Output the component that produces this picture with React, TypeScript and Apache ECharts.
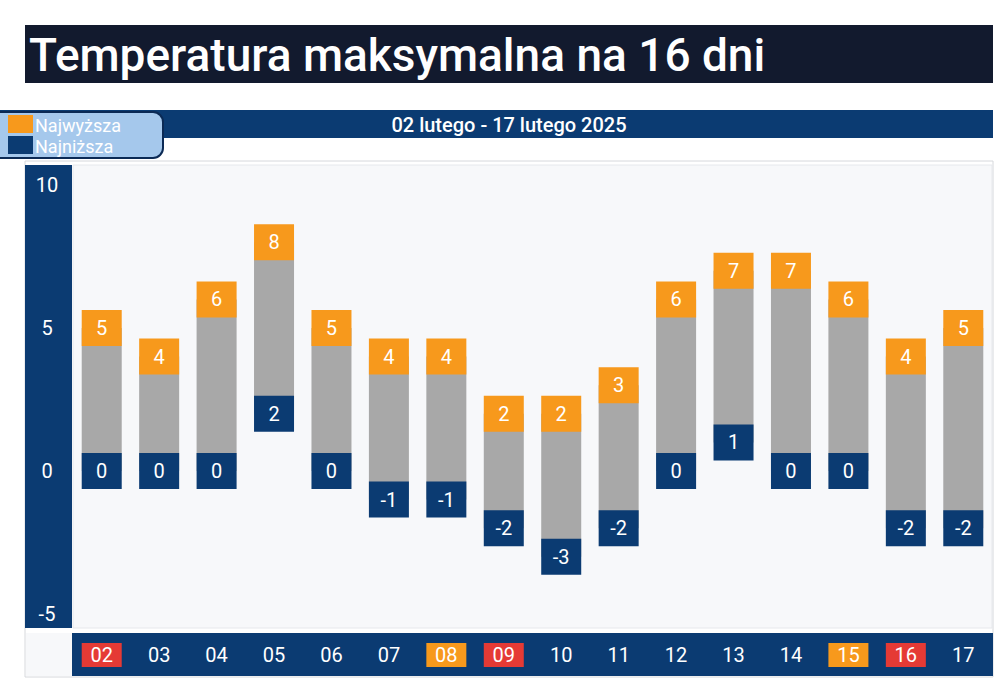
import React, { useEffect, useRef } from "react";
import * as echarts from "echarts";

const days = ["02", "03", "04", "05", "06", "07", "08", "09", "10", "11", "12", "13", "14", "15", "16", "17"];
const maxTemps = [5, 4, 6, 8, 5, 4, 4, 2, 2, 3, 6, 7, 7, 6, 4, 5];
const minTemps = [0, 0, 0, 2, 0, -1, -1, -2, -3, -2, 0, 1, 0, 0, -2, -2];
const redDays = ["02", "09", "16"];
const orangeDays = ["08", "15"];
const titleText = "Temperatura maksymalna na 16 dni";
const rangeText = "02 lutego - 17 lutego 2025";
const legendNames = ["Najwyższa", "Najniższa"];

const ORANGE = "#f7991c";
const NAVY = "#0b3b72";
const GRAY = "#a8a8a8";
const FONT = "Roboto";

export default function App() {
  const ref = useRef<HTMLDivElement>(null);
  useEffect(() => {
    if (!ref.current) return;
    const chart = echarts.init(ref.current, null, { renderer: "svg" });
    const rangeData = days.map((d, i) => [i, minTemps[i], maxTemps[i]]);
    chart.setOption({
      animation: false,
      backgroundColor: "#ffffff",
      textStyle: { fontFamily: FONT },
      grid: { left: 73, right: 8, top: 185, bottom: 74 },
      xAxis: {
        type: "category",
        data: days,
        axisLine: { show: false },
        axisTick: { show: false },
        splitLine: { show: false },
        axisLabel: {
          margin: 29,
          interval: 0,
          formatter: (v: string) =>
            redDays.includes(v) ? `{r|${v}}` : orangeDays.includes(v) ? `{o|${v}}` : `{n|${v}}`,
          rich: {
            r: { backgroundColor: "#e53a35", color: "#fff", width: 40, height: 24, align: "center", fontSize: 20, fontFamily: FONT },
            o: { backgroundColor: ORANGE, color: "#fff", width: 40, height: 24, align: "center", fontSize: 20, fontFamily: FONT },
            n: { color: "#fff", width: 40, height: 24, align: "center", fontSize: 20, fontFamily: FONT },
          },
        },
      },
      yAxis: {
        type: "value",
        min: -5,
        max: 10,
        interval: 5,
        axisLine: { show: false },
        axisTick: { show: false },
        splitLine: { show: false },
        axisLabel: { color: "#fff", fontSize: 20, fontFamily: FONT, align: "center", margin: 26, padding: [0, 0, 3, 0] },
      },
      graphic: [
        { type: "rect", z: -10, shape: { x: 25, y: 25, width: 968, height: 58 }, style: { fill: "#121a2e" } },
        {
          type: "text", z: -9, x: 29, y: 55,
          style: { text: titleText, fill: "#fff", font: `500 46px ${FONT}`, textVerticalAlign: "middle", textAlign: "left" },
        },
        { type: "rect", z: -10, shape: { x: 0, y: 110, width: 993, height: 28 }, style: { fill: NAVY } },
        {
          type: "text", z: -9, x: 509, y: 125,
          style: { text: rangeText, fill: "#fff", font: `500 20px ${FONT}`, textVerticalAlign: "middle", textAlign: "center" },
        },
        { type: "rect", z: -10, shape: { x: 25, y: 161, width: 968, height: 516 }, style: { fill: "#ffffff", stroke: "#d6d8dc", lineWidth: 1 } },
        { type: "rect", z: -10, shape: { x: 73, y: 165, width: 919, height: 463 }, style: { fill: "#f7f8fa", stroke: "#e6e8ec", lineWidth: 1 } },
        { type: "rect", z: -10, shape: { x: 26, y: 633, width: 46, height: 43 }, style: { fill: "#f7f8fa" } },
        { type: "rect", z: -10, shape: { x: 25, y: 165, width: 47, height: 463 }, style: { fill: NAVY } },
        { type: "rect", z: -10, shape: { x: 72, y: 633, width: 921, height: 43 }, style: { fill: NAVY } },
        {
          type: "rect", z: 5, shape: { x: -12, y: 112, width: 175, height: 46, r: 10 },
          style: { fill: "#a5c8ec", stroke: "#0b2a55", lineWidth: 2 },
        },
        { type: "rect", z: 6, shape: { x: 8, y: 115, width: 25, height: 18 }, style: { fill: ORANGE } },
        { type: "rect", z: 6, shape: { x: 8, y: 136, width: 25, height: 18 }, style: { fill: NAVY } },
        {
          type: "text", z: 6, x: 35, y: 125,
          style: { text: legendNames[0], fill: "#fff", font: `18px ${FONT}`, textVerticalAlign: "middle" },
        },
        {
          type: "text", z: 6, x: 35, y: 146,
          style: { text: legendNames[1], fill: "#fff", font: `18px ${FONT}`, textVerticalAlign: "middle" },
        },
      ],
      series: [
        {
          type: "custom",
          data: rangeData,
          encode: { x: 0, y: [1, 2] },
          renderItem: (params: any, api: any) => {
            const lo = api.coord([api.value(0), api.value(1)]);
            const hi = api.coord([api.value(0), api.value(2)]);
            return {
              type: "rect",
              shape: { x: lo[0] - 20, y: hi[1], width: 40, height: lo[1] - hi[1] },
              style: { fill: GRAY },
            };
          },
          z: 1,
        },
        {
          type: "scatter",
          data: maxTemps,
          symbol: "rect",
          symbolSize: [40, 36],
          itemStyle: { color: ORANGE, opacity: 1 },
          label: { show: true, position: "inside", formatter: "{c}", color: "#fff", fontSize: 20, fontFamily: FONT },
          z: 3,
        },
        {
          type: "scatter",
          data: minTemps,
          symbol: "rect",
          symbolSize: [40, 36],
          itemStyle: { color: NAVY, opacity: 1 },
          label: { show: true, position: "inside", formatter: "{c}", color: "#fff", fontSize: 20, fontFamily: FONT },
          z: 3,
        },
      ],
    });
    return () => chart.dispose();
  }, []);
  return <div ref={ref} style={{ position: "fixed", left: 0, top: 0, width: 1000, height: 688 }} />;
}
